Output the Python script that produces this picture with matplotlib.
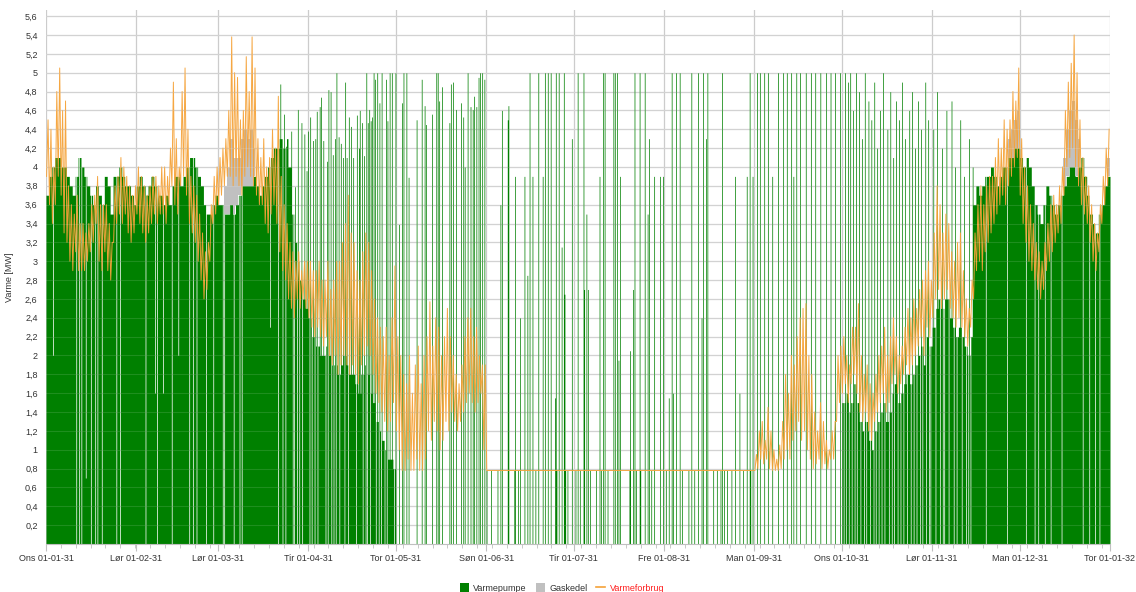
import numpy as np
import matplotlib
matplotlib.use("Agg")
import matplotlib.pyplot as plt
from matplotlib.patches import Patch
from matplotlib.lines import Line2D

# ---------------- data ----------------
month_labels = ["Ons 01-01-31", "Lør 01-02-31", "Lør 01-03-31", "Tir 01-04-31",
                "Tor 01-05-31", "Søn 01-06-31", "Tir 01-07-31", "Fre 01-08-31",
                "Man 01-09-31", "Ons 01-10-31", "Lør 01-11-31", "Man 01-12-31",
                "Tor 01-01-32"]
month_start_day = [0, 31, 59, 90, 120, 151, 181, 212, 243, 273, 304, 334, 365]

# Varmeforbrug: daily low / high of the hourly curve (MW)
cons_lo_jan = [3.9,3.6,3.4,3.6,3.9, 3.7,3.3,3.2,3.0,2.9, 3.1,2.9,2.9,2.9,3.0, 3.1,3.2,3.4,3.0,2.9, 3.1,2.9,2.8,3.2,3.4, 3.5,3.4,3.5,3.3,3.2, 3.3]
cons_hi_jan = [4.5,4.4,4.0,4.8,5.05, 4.6,4.7,3.8,3.6,3.5, 3.7,3.4,3.4,3.3,3.4, 3.6,3.7,3.9,3.6,3.6, 3.6,3.4,3.2,3.8,3.9, 4.1,4.0,3.9,3.8,3.7, 3.8]
cons_lo_feb = [3.5,3.4,3.3,3.2,3.3, 3.4,3.5,3.4,3.5,3.5, 3.4,3.6,3.8,3.6,3.5, 3.8,3.9,3.7,3.4,3.3, 3.2,3.0,2.8,2.6,2.7, 3.0,3.4,3.5]
cons_hi_feb = [4.0,3.9,3.8,3.7,3.8, 3.9,3.9,3.8,4.0,4.0, 3.9,4.2,4.9,4.3,4.0, 4.8,5.05,4.4,3.9,3.8, 3.7,3.5,3.3,3.1,3.2, 3.6,3.9,4.0]
cons_lo_mar = [3.6,3.7,3.8,3.9,3.9, 3.8,3.9,3.8,3.7,3.9, 4.0,3.9,3.8,3.7,3.6, 3.6,3.4,3.3,3.5,3.6, 3.4,3.1,2.9,2.8,2.6, 2.5,2.4,2.6,2.5,2.6, 2.5]
cons_hi_mar = [4.1,4.2,4.3,4.6,5.38, 5.0,4.95,4.5,4.6,5.17, 4.8,5.38,5.05,4.3,4.1, 4.3,4.0,4.1,4.4,4.2, 4.75,3.9,3.6,3.4,3.2, 3.1,3.0,3.1,2.9,3.0, 3.0]
cons_lo_apr = [2.4,2.3,2.2,2.3,2.2, 2.1,2.2,2.0,1.9,2.0, 1.8,1.9,2.0,1.9,1.8, 1.9,1.8,1.7,1.9,2.0, 2.1,2.0,1.8,1.6,1.5, 1.4,1.3,1.2,1.3,1.5]
cons_hi_apr = [3.0,2.9,2.9,3.0,2.8, 2.8,3.0,2.7,2.8,3.0, 3.0,3.2,3.4,3.7,3.3, 3.2,2.9,2.8,3.1,3.3, 3.2,2.9,2.6,2.4,2.3, 2.2,2.3,2.0,2.4,2.95]
cons_lo_may = [1.2,1.0,0.78,0.78,0.9, 0.78,0.78,0.9,0.78,0.78, 0.9,1.2,1.1,1.3,1.2, 1.0,1.1,1.3,1.2,1.4, 1.3,1.2,1.3,1.4,1.5, 1.6,1.5,1.4,1.5,1.6, 1.0]
cons_hi_may = [2.2,2.0,1.8,1.7,2.0, 1.6,1.9,2.1,1.7,2.0, 2.2,2.57,2.1,2.4,2.3, 2.0,2.2,2.5,2.2,2.0, 1.8,1.7,1.9,2.2,2.4, 2.5,2.2,2.3,2.0,1.9, 1.9]
cons_lo_summer = [0.78] * 92
cons_hi_summer = [0.78] * 92
cons_lo_sep = [0.78,0.8,0.9,0.85,0.9, 0.8,0.78,0.78,0.78,0.8, 0.9,1.0,0.9,1.1,1.2, 1.3,1.1,1.2,1.0,0.9, 0.8,0.85,0.9,0.8,0.85, 0.8,0.9,0.9,1.3,1.5]
cons_hi_sep = [0.95,1.2,1.3,1.1,1.45, 1.2,1.0,0.9,1.05,1.3, 1.8,1.6,2.0,1.9,2.2, 2.4,2.5,2.55,2.0,1.8, 1.4,1.2,1.5,1.3,1.1, 1.0,1.2,1.3,2.0,2.1]
cons_lo_oct = [1.6,1.7,1.5,1.7,1.8, 1.6,1.4,1.3,1.4,1.2, 1.1,1.3,1.4,1.5,1.6, 1.4,1.5,1.7,1.8,1.6, 1.7,1.8,1.9,1.8,1.9, 2.0,2.1,2.2,2.0,2.3, 2.2]
cons_hi_oct = [2.2,2.0,1.9,2.3,2.3, 2.55,2.0,1.8,1.9,1.7, 1.6,1.8,2.0,2.1,2.3, 2.0,2.2,2.4,2.2,2.0, 2.1,2.3,2.5,2.4,2.6, 2.5,2.7,2.8,2.9,3.0, 2.8]
cons_lo_nov = [2.4,2.6,2.7,2.5,2.6, 2.7,2.5,2.4,2.3,2.4, 2.3,2.2,2.1,2.3,2.6, 2.9,3.0,2.9,3.1,3.2, 3.3,3.4,3.5,3.6,3.7, 3.6,3.8,3.9,4.0,4.1]
cons_hi_nov = [3.3,3.8,3.6,3.3,3.5, 3.4,3.1,3.0,3.2,3.3, 2.9,2.6,2.5,2.8,3.3, 3.6,3.8,3.6,3.8,3.9, 3.9,4.1,4.3,4.2,4.5, 4.4,4.5,4.8,4.7,5.05]
cons_lo_dec = [3.7,3.4,3.2,3.0,2.9, 2.8,2.7,2.6,2.7,2.9, 3.0,3.1,3.2,3.3,3.4, 3.7,4.0,4.1,4.2,4.0, 3.8,3.6,3.5,3.4,3.2, 3.0,2.9,3.1,3.4,3.6, 3.8]
cons_hi_dec = [4.3,4.0,3.8,3.6,3.4, 3.2,3.1,3.0,3.2,3.4, 3.6,3.7,3.6,3.8,4.0, 4.6,4.9,5.1,5.4,5.0, 4.5,4.1,3.9,3.8,3.6, 3.4,3.3,3.6,3.9,4.2, 4.4]

# Varmepumpe: daily output level in the periods where it runs continuously (MW)
hp_jan = [3.7,3.9,4.0,4.1,4.1, 4.0,4.0,3.9,3.8,3.7, 3.9,4.1,4.0,3.9,3.8, 3.7,3.6,3.8,3.7,3.6, 3.9,3.8,3.5,3.9,3.9, 4.0,3.9,3.8,3.8,3.7, 3.6]
hp_feb = [3.8,3.9,3.8,3.7,3.8, 3.9,3.8,3.7,3.7,3.6, 3.7,3.6,3.8,3.9,3.9, 3.8,3.9,4.0,4.1,4.1, 4.0,3.9,3.8,3.6,3.5, 3.5,3.6,3.7]
hp_mar = [3.6,3.6,3.5,3.5,3.6, 3.5,3.6,3.7,3.8,3.8, 3.8,3.8,3.9,3.8,3.7, 3.8,3.9,4.0,4.1,4.2, 4.2,4.3,4.2,4.3,4.0, 3.5,3.2,3.0,2.8,2.6, 2.5]
hp_apr = [2.4,2.2,2.1,2.1,2.0, 2.0,2.1,2.0,1.9,1.9, 1.8,1.9,2.0,1.9,1.8, 1.8,1.7,1.6,1.8,1.9, 1.8,1.6,1.5,1.3,1.2, 1.1,1.0,0.9,0.9,0.8]
hp_may = [0.0] * 31
hp_summer = [0.0] * 92
hp_sep = [0.0] * 30
hp_oct = [1.5,1.6,1.4,1.5,1.7, 1.5,1.3,1.2,1.3,1.1, 1.0,1.2,1.3,1.4,1.5, 1.3,1.4,1.6,1.7,1.5, 1.6,1.7,1.8,1.7,1.8, 1.9,2.0,2.1,1.9,2.2, 2.1]
hp_nov = [2.3,2.5,2.6,2.5,2.6, 2.6,2.4,2.3,2.2,2.3, 2.2,2.1,2.0,2.2,3.6, 3.8,3.7,3.8,3.9,3.9, 4.0,3.9,3.8,3.9,4.0, 4.0,4.1,4.1,4.2,4.2]
hp_dec = [4.1,4.0,4.1,4.0,3.8, 3.6,3.5,3.4,3.6,3.8, 3.7,3.6,3.5,3.6,3.7, 3.8,3.9,4.0,4.0,3.9, 4.0,4.1,3.9,3.7,3.5, 3.4,3.3,3.5,3.6,3.8, 3.9]

# hours (as day of year) where the heat pump is off
hp_gap_day = [10.3, 11.4, 12.2, 15.3, 16.8, 17.6, 19.1, 24.0, 25.4, 34.0, 38.1, 43.1,
              49.1, 50.3, 51.5, 54.8, 57.4, 60.6, 61.1, 64.3, 66.3, 67.1, 79.7, 81.2,
              82.0, 84.7, 85.2, 86.0, 86.9, 87.8, 88.6, 89.4, 90.3, 91.1, 92.0, 93.2,
              93.9, 95.1, 95.9, 96.6, 97.8, 98.7, 99.4, 100.5, 101.2, 102.3, 103.5,
              104.6, 105.3, 106.3, 107.7, 108.6, 109.5, 110.2, 111.1, 112.3, 113.2,
              114.0, 114.9, 116.1, 116.9, 117.8, 118.7, 119.4,
              273.6, 274.3, 275.3, 276.4, 277.3, 278.2, 279.4, 280.6, 281.3, 282.6,
              283.8, 284.5, 285.6, 286.7, 287.7, 289.0, 290.2, 290.9, 292.1, 293.2,
              294.0, 295.4, 296.5, 297.5, 298.6, 299.8, 300.6, 301.9, 302.8, 303.4,
              305.2, 306.5, 307.7, 308.1, 309.6, 310.7, 311.3, 312.4, 313.6, 314.2,
              315.5, 316.4, 317.1,
              322.4, 329.6, 336.2, 339.1, 340.4, 342.7, 344.5, 348.3, 355.6, 357.8,
              359.9, 361.3]
hp_dip_day = [2.3, 13.7, 37.4, 40.0, 45.3, 76.8]
hp_dip_mw = [2.0, 0.7, 1.6, 1.6, 2.0, 2.3]

# single-hour heat pump runs in the part-load months (day of year, MW)
hp_spike_day = [80.3, 81.6, 82.3, 84.0, 85.4, 86.4, 87.7, 88.5, 89.4, 89.9, 90.6, 91.5,
                92.3, 92.9, 93.8, 94.4, 95.1, 96.3, 96.8, 97.7, 98.4, 99.1, 99.7, 100.3,
                101.1, 101.8, 102.6, 103.2, 103.8, 104.6, 105.4, 106.6, 107.3, 107.7,
                108.4, 109.1, 109.8, 110.4, 110.9, 111.4, 111.8, 112.3, 112.9, 113.7,
                114.3, 115.2, 116.5, 117.1, 117.8, 118.7, 119.8, 121.0, 122.0, 122.6,
                123.5, 124.4, 127.2, 128.9, 129.8, 130.4, 132.3, 133.8, 134.4, 134.9,
                135.8, 138.4, 138.8, 139.7, 140.6, 142.3, 143.2, 143.7, 144.7, 145.5,
                146.4, 146.9, 147.5, 148.3, 148.9, 149.6, 150.3,
                155.97, 156.3, 158.26, 158.72, 160.78, 162.72, 164.21, 165.24, 165.93,
                166.84, 168.78, 170.27, 171.07, 172.1, 173.1, 174.6, 174.8, 175.9,
                176.9, 177.5, 177.8, 180.3, 182.4, 184.3, 184.7, 185.4, 185.8, 189.8,
                191.0, 191.6, 194.6, 195.2, 195.9, 196.3, 196.9, 200.3, 201.3, 201.8,
                203.5, 205.3, 206.4, 206.9, 208.7, 210.7, 211.7, 213.7, 214.7, 215.2,
                216.0, 217.4, 221.4, 223.6, 224.9, 225.3, 226.3, 226.8, 231.9, 236.4,
                237.9, 240.4, 241.3, 242.4,
                243.9, 244.9, 246.3, 247.7, 249.1, 251.1, 252.8, 254.2, 255.6, 256.3,
                257.3, 258.7, 260.7, 262.4, 263.8, 265.5, 267.6, 269.0, 270.6, 272.3,
                274.1, 275.1, 275.8, 276.8, 277.9, 278.8, 279.9, 280.9, 282.0, 283.0,
                284.0, 285.1, 286.1, 287.1, 288.5, 289.5, 290.6, 291.6, 292.6, 293.7,
                294.7, 296.1, 297.1, 298.1, 299.1, 300.2, 301.5, 302.6,
                304.4, 305.6, 307.3, 308.8, 310.6, 311.9, 313.5, 314.8, 316.6, 317.8]
hp_spike_mw = [4.88, 4.56, 4.22, 4.38, 3.79, 4.61, 4.47, 4.35, 3.96, 4.38, 4.53, 4.28,
               4.30, 4.59, 4.64, 4.74, 4.28, 4.06, 4.82, 4.80, 4.13, 4.30, 5.0, 4.32,
               4.25, 4.10, 4.90, 4.10, 4.53, 4.43, 4.10, 4.55, 4.20, 4.60,
               4.47, 4.12, 5.0, 4.47, 4.61, 4.49, 4.53, 5.0, 4.93, 5.0,
               4.68, 5.0, 4.93, 4.49, 5.0, 5.0, 5.0, 3.39, 4.68, 5.0,
               5.0, 3.89, 4.50, 4.93, 4.65, 4.45, 4.56, 5.0, 5.0, 4.70,
               4.85, 4.47, 4.88, 4.90, 4.61, 4.68, 4.53, 4.0, 5.0, 4.64,
               4.61, 4.75, 4.64, 4.95, 5.0, 5.0, 4.93,
               3.6, 4.6, 4.5, 4.65, 3.9, 2.4, 3.9, 2.85, 5.0,
               3.9, 5.0, 3.9, 5.0, 5.0, 5.0, 1.55, 5.0, 5.0,
               3.15, 5.0, 2.65, 4.3, 5.0, 5.0, 2.7, 3.5, 2.7, 3.9,
               5.0, 5.0, 5.0, 5.0, 5.0, 1.95, 3.9, 2.05, 2.7, 5.0,
               5.0, 5.0, 3.5, 4.3, 3.9, 3.9, 3.9, 1.55, 5.0, 1.6,
               5.0, 5.0, 5.0, 5.0, 2.4, 5.0, 4.3, 5.0, 5.0, 3.9,
               1.6, 3.9, 5.0, 3.9,
               5.0, 5.0, 5.0, 5.0, 3.9, 5.0, 5.0, 5.0, 5.0, 3.9,
               5.0, 5.0, 5.0, 5.0, 5.0, 5.0, 5.0, 5.0, 5.0, 5.0,
               5.0, 4.9, 5.0, 4.6, 5.0, 4.8, 4.3, 5.0, 4.7, 4.5,
               4.9, 4.2, 4.6, 5.0, 4.4, 4.8, 4.1, 4.7, 4.5, 4.9,
               4.3, 4.6, 4.8, 4.2, 4.7, 4.4, 4.9, 4.5,
               4.4, 4.8, 4.2, 4.6, 4.7, 4.0, 4.5, 3.9, 4.3, 4.0]
# short runs at the summer base load (day of year), MW = 0.78
hp_low_day = [151.2, 152.7, 154.8, 160.5, 161.8, 167.8, 175.2, 178.1, 178.8, 181.6,
              183.2, 186.6, 188.7, 190.4, 192.6, 200.1, 202.3, 203.8, 207.7, 212.5,
              216.2, 218.1, 220.3, 222.4, 228.9, 230.2, 231.4, 232.7, 233.5, 235.2,
              239.0, 241.5]
hp_low_mw = 0.78

# Gaskedel (MW on top of the heat pump)
gas_day = [61, 62, 63, 64, 65, 66, 67, 68, 69, 70, 71, 330, 331, 332, 333,
           349, 350, 351, 352, 353, 354, 364]
gas_mw = [0.3, 0.5, 0.7, 0.6, 0.5, 0.4, 0.5, 0.6, 0.5, 0.6, 0.3, 0.2, 0.3, 0.3, 0.4,
          0.3, 0.5, 0.6, 0.7, 0.6, 0.3, 0.2]

legend_labels = ["Varmepumpe", "Gaskedel", "Varmeforbrug"]

# ---------------- build 6-hour series ----------------
cons_lo = np.array(cons_lo_jan + cons_lo_feb + cons_lo_mar + cons_lo_apr + cons_lo_may +
                   cons_lo_summer + cons_lo_sep + cons_lo_oct + cons_lo_nov + cons_lo_dec)
cons_hi = np.array(cons_hi_jan + cons_hi_feb + cons_hi_mar + cons_hi_apr + cons_hi_may +
                   cons_hi_summer + cons_hi_sep + cons_hi_oct + cons_hi_nov + cons_hi_dec)
hp_day = np.array(hp_jan + hp_feb + hp_mar + hp_apr + hp_may + hp_summer + hp_sep +
                  hp_oct + hp_nov + hp_dec)
ndays = len(hp_day)
per_day = 4
nb = ndays * per_day
t_edges = np.arange(nb + 1) / per_day

hp_level = np.repeat(hp_day, per_day).astype(float)
hp = hp_level.copy()
for d in hp_gap_day:
    hp[int(d * per_day)] = 0.0
for d, v in zip(hp_dip_day, hp_dip_mw):
    hp[int(d * per_day)] = v
for d in hp_low_day:
    hp[int(d * per_day)] = hp_low_mw
for d, v in zip(hp_spike_day, hp_spike_mw):
    hp[int(d * per_day)] = v

gas = np.zeros(nb)
for d, v in zip(gas_day, gas_mw):
    gas[d * per_day:(d + 1) * per_day] = v
gas_base = hp_level

days = np.arange(ndays)
cx = np.column_stack([days + 0.2, days + 0.7]).ravel()
cy = np.column_stack([cons_lo, cons_hi]).ravel()

# ---------------- plot ----------------
GREEN = "#008000"
GRAY = "#c0c0c0"
ORANGE = "#f5a238"

fig = plt.figure(figsize=(11.36, 5.92), dpi=100)
ax = fig.add_axes([46 / 1136, 48 / 592, 1064 / 1136, 534 / 592])

yt = np.round(np.arange(0.2, 5.61, 0.2), 1)
ax.set_yticks(yt)
ax.set_yticklabels([(f"{v:.1f}".rstrip("0").rstrip(".")).replace(".", ",") for v in yt])
ax.set_ylim(0, 5.665)
ax.set_xlim(0, ndays)
ax.set_xticks(month_start_day)
ax.set_xticklabels(month_labels)
ax.set_xticks(np.arange(0, ndays + 1, 5.1), minor=True)

ax.grid(True, which="major", color="#cccccc", linewidth=0.9)
ax.set_axisbelow(True)

ax.fill_between(t_edges, np.append(hp, hp[-1]), step="post", color=GREEN,
                linewidth=0, zorder=2)
ax.fill_between(t_edges, np.append(gas_base, gas_base[-1]),
                np.append(gas_base + gas, (gas_base + gas)[-1]),
                where=np.append(gas > 0, gas[-1] > 0), step="post", color=GRAY,
                linewidth=0, zorder=2)
ax.plot(cx, cy, color=ORANGE, linewidth=0.7, alpha=0.95, zorder=3)

for v in yt:
    ax.axhline(v, color="#ffffff", alpha=0.12, linewidth=0.8, zorder=4)

for s in ["left", "right", "top"]:
    ax.spines[s].set_visible(False)
ax.spines["bottom"].set_color("#c0c0c0")
ax.tick_params(axis="y", length=0, labelsize=6.5, labelcolor="#333333", pad=6)
ax.tick_params(axis="x", which="major", length=5, color="#c0c0c0", labelsize=6.5,
               labelcolor="#333333", pad=2)
ax.tick_params(axis="x", which="minor", length=3, color="#c0c0c0")
for lab in ax.get_xticklabels() + ax.get_yticklabels():
    lab.set_fontfamily("Liberation Sans")

ax.set_ylabel("Varme [MW]", fontsize=6.5, color="#333333", family="Liberation Sans",
              labelpad=8)

handles = [Patch(facecolor=GREEN, edgecolor="none"),
           Patch(facecolor=GRAY, edgecolor="none"),
           Line2D([0], [0], color=ORANGE, linewidth=1.2)]
leg = fig.legend(handles, legend_labels, loc="center", bbox_to_anchor=(562 / 1136, 4 / 592),
                 ncol=3, frameon=False, handlelength=1.0, handleheight=1.0,
                 handletextpad=0.5, columnspacing=1.0,
                 prop={"family": "Liberation Sans", "size": 6.5})
for txt, c in zip(leg.get_texts(), ["#333333", "#333333", "#ff2020"]):
    txt.set_color(c)

fig.savefig("out.png", dpi=100)
